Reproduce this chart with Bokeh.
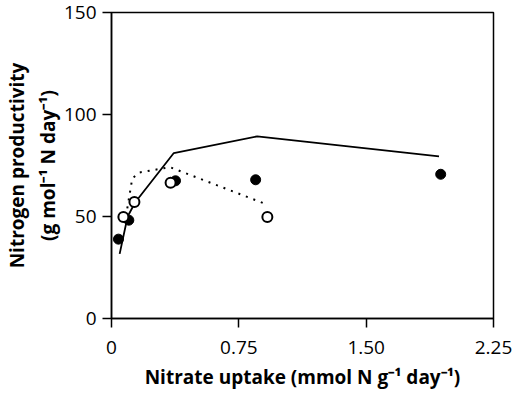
from bokeh.plotting import figure
from bokeh.models import FixedTicker, Range1d
from bokeh.embed import file_html
from bokeh.resources import INLINE

# Data
filled_x = [0.041, 0.102, 0.377, 0.849, 1.939]
filled_y = [38.9, 48.2, 67.5, 68.0, 70.7]
open_x = [0.070, 0.135, 0.348, 0.918]
open_y = [49.7, 57.1, 66.5, 49.7]
solid_x = [0.048, 0.095, 0.140, 0.367, 0.858, 1.929]
solid_y = [31.7, 50.0, 57.0, 81.1, 89.3, 79.5]
dotted_x = [0.093, 0.122, 0.160, 0.344, 0.918]
dotted_y = [54.0, 68.5, 71.5, 74.2, 55.8]
x_ticks = [0, 0.75, 1.50, 2.25]
x_tick_labels = ["0", "0.75", "1.50", "2.25"]
y_ticks = [0, 50, 100, 150]

FONT = "Open Sans"

p = figure(frame_width=382, frame_height=306, output_backend="svg", toolbar_location=None,
           x_range=Range1d(0, 2.25), y_range=Range1d(0, 150),
           min_border_left=103, min_border_right=20, min_border_top=12, min_border_bottom=66)
p.grid.visible = False
p.outline_line_color = "black"
p.outline_line_width = 1.5
p.background_fill_color = "white"
p.border_fill_color = "white"

p.line(solid_x, solid_y, line_color="black", line_width=1.8)
p.line(dotted_x, dotted_y, line_color="black", line_width=2, line_dash="2 6")
p.scatter(filled_x, filled_y, size=10, marker="circle", fill_color="black", line_color="black")
p.scatter(open_x, open_y, size=10, marker="circle", fill_color="white", line_color="black", line_width=2)

for ax in (p.xaxis[0], p.yaxis[0]):
    ax.axis_line_color = "black"
    ax.axis_line_width = 1.5
    ax.major_tick_line_width = 1.5
    ax.major_tick_in = 0
    ax.major_tick_out = 9
    ax.minor_tick_line_color = None
    ax.major_label_text_font = FONT
    ax.major_label_text_font_size = "19px"
    ax.major_label_text_color = "black"
    ax.axis_label_text_font = FONT
    ax.axis_label_text_font_size = "19px"
    ax.axis_label_text_font_style = "bold"
    ax.axis_label_text_color = "black"

p.xaxis.ticker = FixedTicker(ticks=x_ticks)
p.xaxis.major_label_overrides = {t: l for t, l in zip(x_ticks, x_tick_labels)}
p.yaxis.ticker = FixedTicker(ticks=y_ticks)
p.xaxis.axis_label = "Nitrate uptake (mmol N g\u207b\u00b9 day\u207b\u00b9)"
p.yaxis.axis_label = "Nitrogen productivity\n(g mol\u207b\u00b9 N day\u207b\u00b9)"
p.xaxis.major_label_standoff = 13
p.yaxis.major_label_standoff = 6
p.xaxis.axis_label_standoff = 7
p.yaxis.axis_label_standoff = 0

open("out.html", "w").write(file_html(p, INLINE))
